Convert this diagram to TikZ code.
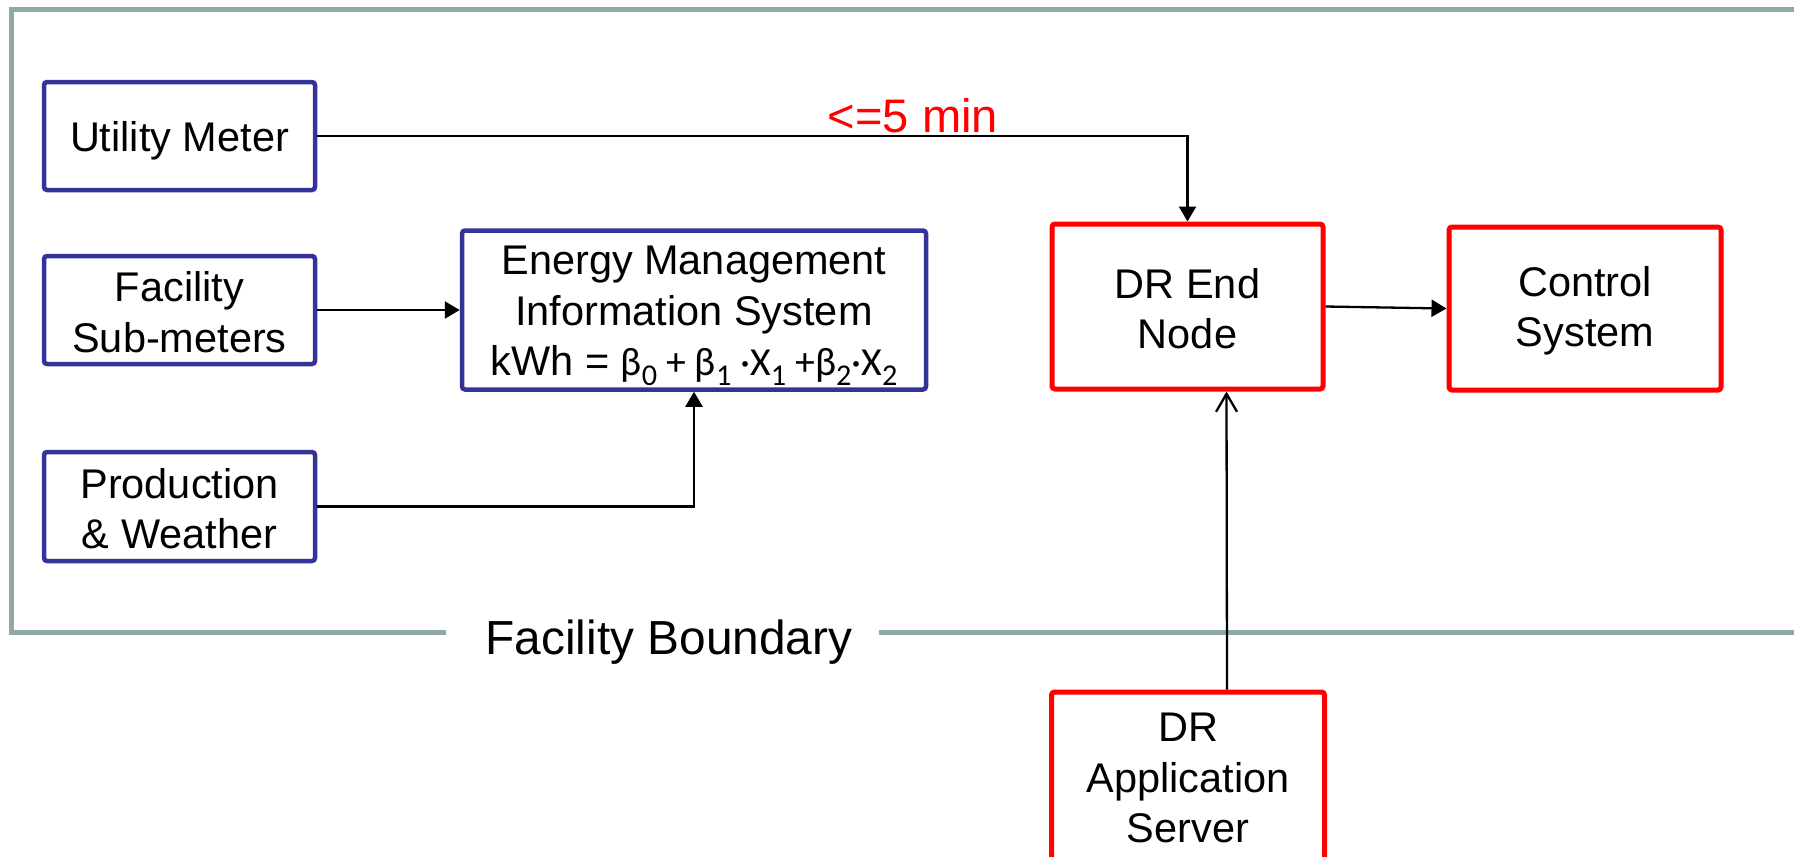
\documentclass[tikz,border=0pt]{standalone}
\usepackage{fontspec}
\setmainfont{Liberation Sans}
\newfontfamily\calfont{Carlito}
\usetikzlibrary{arrows.meta}
\definecolor{boxblue}{RGB}{51,51,153}
\definecolor{boxred}{RGB}{255,0,0}
\definecolor{framegray}{RGB}{143,168,168}
% lowered subscript in the current family
\newcommand{\lowsub}[1]{\raisebox{-2.8pt}{\fontsize{8.6}{8.6}\selectfont #1}}
% taller first lines, so box text sits a little lower
\newcommand{\topstrut}{\rule{0pt}{11.5pt}}
\newcommand{\midstrut}{\rule{0pt}{9.8pt}}

\begin{document}
\begin{tikzpicture}[x=0.1mm,y=-0.1mm,
  inbox/.style={draw=boxblue, line width=0.45mm, rounded corners=0.3mm, align=center,
                font=\fontsize{11.8}{14.4}\selectfont, inner sep=0pt},
  outbox/.style={inbox, draw=boxred, line width=0.5mm},
  link/.style={line width=0.23mm, -{Triangle[length=1.5mm,width=1.7mm]}},
  feed/.style={line width=0.23mm, -{Straight Barb[length=1.8mm,width=2.1mm]}},
  boundary/.style={draw=framegray, line width=0.5mm}]
\useasboundingbox (0,0) rectangle (1794,856);

% facility boundary frame
\node[font=\fontsize{13.6}{16}\selectfont, anchor=base] (fb) at (669,654) {Facility Boundary};
\coordinate (fbL) at (446,632);
\coordinate (fbR) at (879,632);
\draw[boundary] (1810,9) -- (11.5,9) -- (11.5,632) -- (fbL);
\draw[boundary] (fbR) -- (1810,632);

% inputs inside the facility
\node[inbox, minimum width=27.1mm, minimum height=10.8mm] (um) at (179.5,136) {\topstrut Utility Meter};
\node[inbox, minimum width=27.1mm, minimum height=10.8mm] (sub) at (179.5,310) {\midstrut Facility\\Sub-meters};
\node[inbox, minimum width=27.1mm, minimum height=10.9mm] (prod) at (179.5,506.5) {\midstrut Production\\\& Weather};
\node[inbox, minimum width=46.4mm, minimum height=15.9mm] (emis) at (694,310)
  {\topstrut Energy Management\\Information System\\kWh = {\calfont\fontsize{11.3}{14.4}\selectfont β\lowsub{0} + β\lowsub{1} ·X\lowsub{1} +β\lowsub{2}·X\lowsub{2}}};

% demand response side
\node[outbox, minimum width=27.1mm, minimum height=16.5mm] (dre) at (1187.5,306.5) {\midstrut DR End\\Node};
\node[outbox, minimum width=27.2mm, minimum height=16.3mm] (ctrl) at (1585,308.5) {\midstrut Control\\System};
\node[outbox, minimum width=27.3mm, minimum height=17.2mm] (dra) at (1188,778) {DR\\Application\\Server};

% connectors
\draw[link] (um.east) -| (dre.north);
\node[text=boxred, font=\fontsize{13.4}{16}\selectfont, anchor=base] (lag) at (913,132) {<=5 min};
\draw[link] (sub.east) -- (emis.west);
\draw[link] (prod.east) -| (emis.south);
\draw[link] (dre.east) -- (ctrl.west);
\draw[feed] ([xshift=3.9mm]dra.north) -- ([xshift=3.9mm]dre.south);
\end{tikzpicture}
\end{document}
